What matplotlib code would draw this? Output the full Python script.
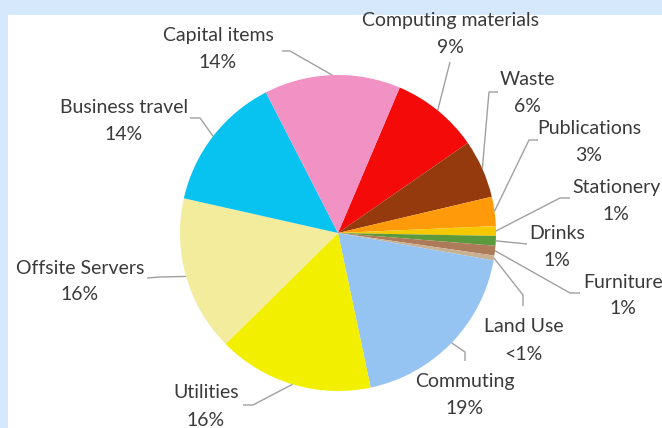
import matplotlib
matplotlib.use("Agg")
import matplotlib.pyplot as plt
import matplotlib.patches as mpatches
import numpy as np

# ---- data ----
categories = ["Computing materials", "Waste", "Publications", "Stationery", "Drinks",
              "Furniture", "Land Use", "Commuting", "Utilities", "Offsite Servers",
              "Business travel", "Capital items"]
values = [9, 6, 3, 1, 1, 1, 0.5, 19, 16, 16, 14, 14]
pct_labels = ["9%", "6%", "3%", "1%", "1%", "1%", "<1%", "19%", "16%", "16%", "14%", "14%"]
colors = ["#f50a0a", "#953a0c", "#ff9a0a", "#f5c800", "#5a9a3c",
          "#ad7a5a", "#c8b090", "#96c4f2", "#f2f000", "#f2ec9c",
          "#08c2f0", "#f291c4"]

# ---- layout (pixel coords, y from top) ----
W, H = 662, 428
cx, cy, R = 338, 233, 158
label_pos = {
    "Computing materials": (450, 20),
    "Waste": (527, 79),
    "Publications": (589, 128),
    "Stationery": (616, 187),
    "Drinks": (557, 233),
    "Furniture": (623, 282),
    "Land Use": (524, 327),
    "Commuting": (465, 382),
    "Utilities": (206, 393),
    "Offsite Servers": (80, 268),
    "Business travel": (124, 107),
    "Capital items": (218, 35),
}
leader_pts = {
    "Computing materials": [(450, 62)],
    "Waste": [(498, 92), (489, 92)],
    "Publications": [(538, 140), (529, 140)],
    "Stationery": [(570, 198), (560, 198)],
    "Drinks": [(527, 244)],
    "Furniture": [(580, 293), (570, 293)],
    "Land Use": [(523, 306), (523, 295)],
    "Commuting": [(465, 361), (465, 352)],
    "Utilities": [(243, 405), (253, 405)],
    "Offsite Servers": [(147, 278), (160, 277)],
    "Business travel": [(190, 118), (200, 118)],
    "Capital items": [(282, 51), (290, 51)],
}

plt.rcParams['font.family'] = ['Lato', 'DejaVu Sans']
fig = plt.figure(figsize=(W / 100, H / 100), dpi=100)
fig.patch.set_facecolor("#d5e8fc")
ax = fig.add_axes([0, 0, 1, 1])

ax.add_patch(mpatches.Rectangle((8, 0), W - 8, H - 15, facecolor="white",
                                edgecolor="none", zorder=0))

start = 90 - 23
wedges, _ = ax.pie(values, colors=colors, startangle=start, counterclock=False,
                   center=(cx, H - cy), radius=R, frame=True,
                   wedgeprops=dict(linewidth=0, zorder=2))
ax.set_xlim(0, W)
ax.set_ylim(0, H)
ax.set_aspect("equal")
ax.axis("off")

txt_color = "#3a3a3a"
line_color = "#a0a0a0"
for w, cat, pl in zip(wedges, categories, pct_labels):
    ang = np.deg2rad((w.theta1 + w.theta2) / 2)
    ax_x = cx + R * np.cos(ang)
    ax_y = (H - cy) + R * np.sin(ang)
    pts = leader_pts[cat]
    xs = [p[0] for p in pts] + [ax_x]
    ys = [H - p[1] for p in pts] + [ax_y]
    ax.plot(xs, ys, color=line_color, lw=1.0, zorder=3, solid_capstyle="butt")
    tx, ty = label_pos[cat]
    ax.text(tx, H - ty, cat, ha="center", va="center", fontsize=14,
            color=txt_color, zorder=4)
    ax.text(tx, H - ty - 27, pl, ha="center", va="center", fontsize=14,
            color=txt_color, zorder=4)

fig.savefig("out.png", dpi=100, facecolor=fig.get_facecolor())
